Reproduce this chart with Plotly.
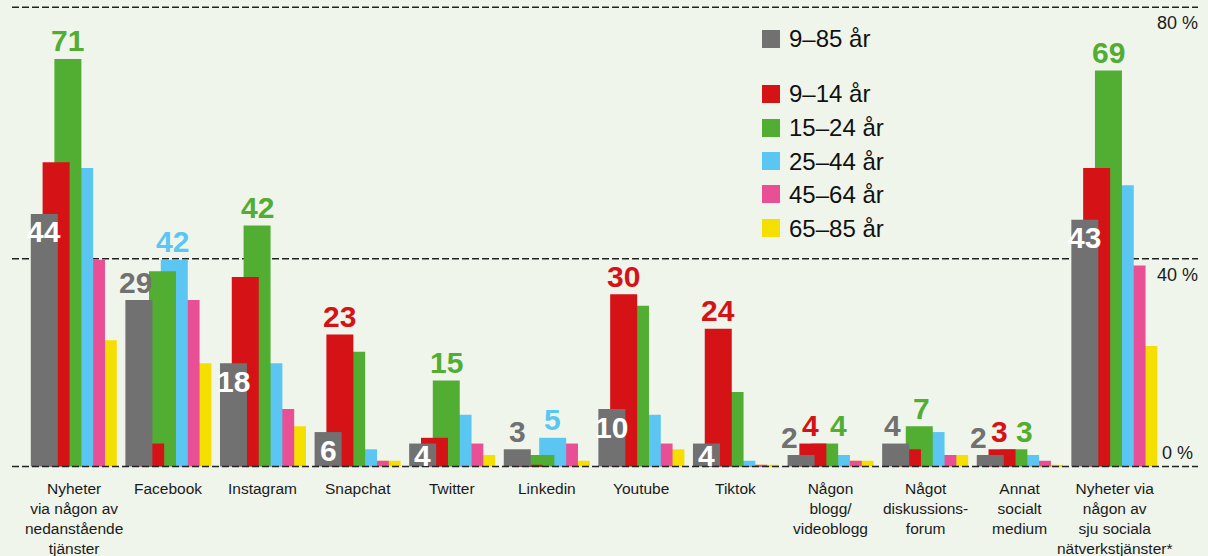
import plotly.graph_objects as go

# ---------------- data ----------------
categories = [
    "Nyheter via någon av nedanstående tjänster", "Facebook", "Instagram", "Snapchat",
    "Twitter", "Linkedin", "Youtube", "Tiktok", "Någon blogg/videoblogg",
    "Något diskussionsforum", "Annat socialt medium",
    "Nyheter via någon av sju sociala nätverkstjänster*",
]
tick_labels = [
    "Nyheter<br>via någon av<br>nedanstående<br>tjänster", "Facebook", "Instagram", "Snapchat",
    "Twitter", "Linkedin", "Youtube", "Tiktok", "Någon<br>blogg/<br>videoblogg",
    "Något<br>diskussions-<br>forum", "Annat<br>socialt<br>medium",
    "Nyheter via<br>någon av<br>sju sociala<br>nätverkstjänster*",
]
series_names = ["9–85 år", "9–14 år", "15–24 år", "25–44 år", "45–64 år", "65–85 år"]
v_9_85 = [44, 29, 18, 6, 4, 3, 10, 4, 2, 4, 2, 43]
v_9_14 = [53, 4, 33, 23, 5, 0.3, 30, 24, 4, 3, 3, 52]
v_15_24 = [71, 34, 42, 20, 15, 2, 28, 13, 4, 7, 3, 69]
v_25_44 = [52, 36, 18, 3, 9, 5, 9, 1, 2, 6, 2, 49]
v_45_64 = [36, 29, 10, 1, 4, 4, 4, 0.3, 1, 2, 1, 35]
v_65_85 = [22, 18, 7, 1, 2, 1, 3, 0.3, 1, 2, 0.3, 21]
series_values = [v_9_85, v_9_14, v_15_24, v_25_44, v_45_64, v_65_85]

# value labels: (category index, series index, printed text)
value_labels = [
    (0, 0, "44"), (0, 2, "71"),
    (1, 0, "29"), (1, 3, "42"),
    (2, 0, "18"), (2, 2, "42"),
    (3, 0, "6"), (3, 1, "23"),
    (4, 0, "4"), (4, 2, "15"),
    (5, 0, "3"), (5, 3, "5"),
    (6, 0, "10"), (6, 1, "30"),
    (7, 0, "4"), (7, 1, "24"),
    (8, 0, "2"), (8, 1, "4"), (8, 2, "4"),
    (9, 0, "4"), (9, 2, "7"),
    (10, 0, "2"), (10, 1, "3"), (10, 2, "3"),
    (11, 0, "43"), (11, 2, "69"),
]
grid_values = [0, 36.2, 80]
grid_labels = ["0 %", "40 %", "80 %"]

# ---------------- styles ----------------
colors = ["#717171", "#d51317", "#52ad33", "#5bc6f2", "#e94f95", "#f5df00"]
bg = "#f0f5ec"
W, H = 1208, 556
MB = 86
PH = H - MB
XR = [-0.78, 11.99]
YR = [-0.61, 81.27]
pxu_x = W / (XR[1] - XR[0])
pxu_y = PH / (YR[1] - YR[0])
bar_w = 27 / pxu_x
step = 11.8 / pxu_x
start = -43 / pxu_x

# label placement styles: inside (white) or outside (coloured), and x nudge in px
inside_set = {(0, 0), (2, 0), (3, 0), (4, 0), (6, 0), (7, 0), (11, 0)}
x_nudge = {(1, 0): -3, (1, 3): -2, (8, 0): -12, (8, 1): -2, (8, 2): 14,
           (9, 0): -3, (9, 2): 2, (10, 0): -12, (10, 1): -3, (10, 2): 11}

def py(px):
    return (PH - px) / PH

fig = go.Figure()
for s in reversed(range(len(series_names))):
    fig.add_trace(go.Bar(
        x=categories, y=series_values[s], name=series_names[s],
        marker=dict(color=colors[s], line=dict(width=0)),
        width=bar_w, offset=start + s * step, showlegend=False,
        hoverinfo="skip",
    ))

annotations = []
for (ci, si, txt) in value_labels:
    v = series_values[si][ci]
    xc = (start + si * step + bar_w / 2) * pxu_x + x_nudge.get((ci, si), 0)
    if (ci, si) in inside_set:
        ys = -min(18, v * pxu_y - 11)
        col = "white"
    else:
        ys = 18
        col = colors[si]
    annotations.append(dict(
        x=categories[ci], y=v, xref="x", yref="y", text=txt, showarrow=False,
        xanchor="center", yanchor="middle", xshift=xc, yshift=ys,
        font=dict(family="Liberation Sans, Arial", size=30, color=col, weight="bold"),
    ))

for ci, lab in enumerate(tick_labels):
    annotations.append(dict(
        x=categories[ci], y=0, xref="x", yref="paper", text=lab, showarrow=False,
        xanchor="center", yanchor="top", yshift=-8, align="center",
        font=dict(family="Liberation Sans, Arial", size=15.5, color="#1a1a1a"),
    ))

shapes = []
label_right = {0: 1195, 1: 1200, 2: 1200}
for gi, (gv, gl) in enumerate(zip(grid_values, grid_labels)):
    shapes.append(dict(type="line", xref="paper", yref="y", x0=12 / W, x1=1198 / W,
                       y0=gv, y1=gv, line=dict(color="#222222", width=1.5, dash="7px,3px"),
                       layer=("above" if gv == 0 else "below")))
    annotations.append(dict(
        x=label_right[gi] / W, y=gv, xref="paper", yref="y", text=gl, showarrow=False,
        xanchor="right", yanchor="middle", yshift=(14 if gv == 0 else -16),
        font=dict(family="Liberation Sans, Arial", size=18, color="#1a1a1a"),
    ))

legend_y = [39, 94, 128, 161, 194, 228]
for s, name in enumerate(series_names):
    yc = legend_y[s]
    shapes.append(dict(type="rect", xref="paper", yref="paper",
                       x0=762 / W, x1=780 / W, y0=py(yc + 9), y1=py(yc - 9),
                       fillcolor=colors[s], line=dict(width=0)))
    annotations.append(dict(
        x=787 / W, y=py(yc), xref="paper", yref="paper", text=name, showarrow=False,
        xanchor="left", yanchor="middle",
        font=dict(family="Liberation Sans, Arial", size=24, color="#111111"),
    ))

fig.update_layout(
    width=W, height=H, barmode="overlay",
    paper_bgcolor=bg, plot_bgcolor=bg,
    margin=dict(l=0, r=0, t=0, b=MB, pad=0),
    xaxis=dict(type="category", range=XR, showticklabels=False, showgrid=False,
               zeroline=False, showline=False, fixedrange=True),
    yaxis=dict(range=YR, showticklabels=False, showgrid=False, zeroline=False,
               showline=False, fixedrange=True),
    annotations=annotations, shapes=shapes, showlegend=False,
)
fig.write_html("out.html")
